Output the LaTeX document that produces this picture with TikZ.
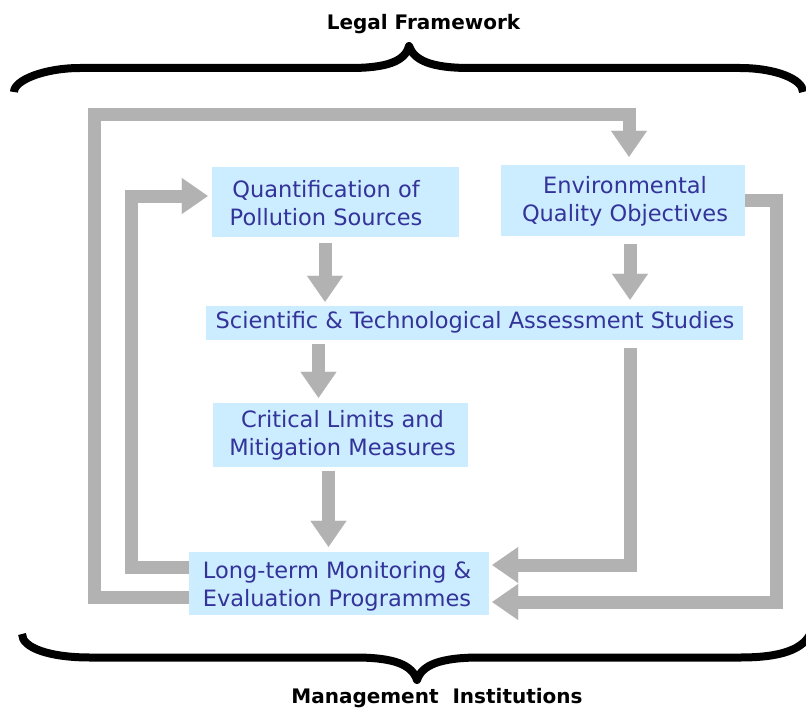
\documentclass[tikz,border=0pt]{standalone}
\usepackage{fontspec}
\setmainfont{DejaVu Sans}
\usetikzlibrary{arrows.meta}
\definecolor{boxfill}{HTML}{CCECFF}
\definecolor{boxtext}{HTML}{333399}
\definecolor{flowgray}{HTML}{B2B2B2}
\begin{document}
\begin{tikzpicture}[x=1pt,y=-1pt,
  box/.style={fill=boxfill, inner sep=0pt},
  boxlabel/.style={text=boxtext, align=center, inner sep=0pt,
    font=\fontsize{22.5}{28}\selectfont},
  heading/.style={inner sep=0pt, anchor=base,
    font=\bfseries\fontsize{20}{24}\selectfont},
  flow/.style={draw=flowgray, line width=13pt,
    -{Triangle[width=36pt,length=26pt,line width=0.1pt]}},
  brace/.style={draw=black, line width=8pt, line join=round}]

\useasboundingbox (0,0) rectangle (806,709);

% process boxes
\node[box, minimum width=247pt, minimum height=70pt] (q) at (335.5,202) {};
\node[box, minimum width=244pt, minimum height=71pt] (e) at (623,200.5) {};
\node[box, minimum width=537pt, minimum height=34pt] (s) at (474.5,323) {};
\node[box, minimum width=255pt, minimum height=64pt] (c) at (340.5,435) {};
\node[box, minimum width=300pt, minimum height=63pt] (m) at (339,583.5) {};

% box texts
\node[boxlabel] (qlabel) at (326,205.4) {\strut Quantification of\\\strut Pollution Sources};
\node[boxlabel] (elabel) at (625,201.4) {\strut Environmental\\\strut Quality Objectives};
\node[boxlabel] (slabel) at (475,322.4) {\strut Scientific \& Technological Assessment Studies};
\node[boxlabel] (clabel) at (342.5,435.4) {\strut Critical Limits and\\\strut Mitigation Measures};
\node[boxlabel] (mlabel) at (337,586.4) {\strut Long-term Monitoring \&\\\strut Evaluation Programmes};

% bends of the feedback loops
\coordinate (outerTL) at (94,114);
\coordinate (innerTL) at (131.5,196);

% main flow
\draw[flow, shorten <=6pt, shorten >=4pt]
  ([xshift=-10.5pt]q.south) -- ([xshift=-10.5pt]q.south |- s.north);
\draw[flow, shorten <=8pt, shorten >=6pt]
  ([xshift=7pt]e.south) -- ([xshift=7pt]e.south |- s.north);
\draw[flow, shorten <=4pt, shorten >=5pt]
  ([xshift=-22pt]c.north |- s.south) -- ([xshift=-22pt]c.north);
\draw[flow, shorten <=4pt, shorten >=5pt]
  ([xshift=-12pt]c.south) -- ([xshift=-12pt]c.south |- m.north);

% side links into monitoring
\draw[flow, shorten <=8pt, shorten >=3pt]
  ([xshift=155.5pt]s.south) |- ([yshift=18.5pt]m.east);
\draw[flow, shorten >=3pt]
  (e.east) -- ++(31.5,0) |- ([yshift=-18.5pt]m.east);

% feedback loops from monitoring
\draw[flow, shorten >=8pt]
  ([yshift=-13.5pt]m.west) -| (outerTL) -| ([xshift=6pt]e.north);
\draw[flow, shorten >=4pt]
  ([yshift=16.5pt]m.west) -| (innerTL) -- ([yshift=6pt]q.west);

% braces
\draw[brace] (14,92) .. controls (14,80) and (45,68) .. (80,68) -- (350,68)
  .. controls (385,68) and (405,62) .. (409,46)
  .. controls (414,60) and (430,68) .. (470,68) -- (740,68)
  .. controls (775,68) and (803,79) .. (803,92);
\draw[brace] (22,634) .. controls (22,648) and (50,657.5) .. (90,657.5) -- (355,657.5)
  .. controls (395,657.5) and (412,665) .. (417,680)
  .. controls (422,665) and (440,657.5) .. (480,657.5) -- (740,657.5)
  .. controls (780,657.5) and (805,650) .. (812,630);

% headings
\node[heading] (legal) at (423.5,30) {Legal Framework};
\node[heading] (institutions) at (437,703) {Management\ \ Institutions};
\end{tikzpicture}
\end{document}
